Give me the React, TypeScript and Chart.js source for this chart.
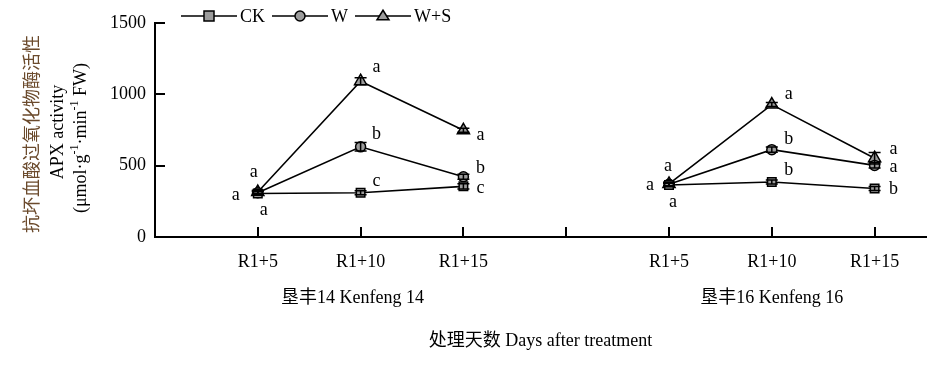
import React, { useEffect, useRef } from 'react';
import { Chart, registerables } from 'chart.js';

Chart.register(...registerables);

// ---------- data ----------
const SERIES_NAMES = ['CK', 'W', 'W+S'];
const CULTIVARS = ['垦丰14 Kenfeng 14', '垦丰16 Kenfeng 16'];
const X_POS_14 = [1, 2, 3];
const X_POS_16 = [5, 6, 7];
const X_TICKS = [1, 2, 3, 4, 5, 6, 7];
const X_TICK_LABELS = ['R1+5', 'R1+10', 'R1+15', '', 'R1+5', 'R1+10', 'R1+15'];
const Y_TICKS = [0, 500, 1000, 1500];

const CK_14 = [305, 310, 355];
const W_14 = [310, 632, 422];
const WS_14 = [315, 1092, 748];
const CK_16 = [365, 385, 340];
const W_16 = [370, 612, 502];
const WS_16 = [372, 928, 552];

const CK_14_ERR = [12, 14, 18];
const W_14_ERR = [12, 30, 18];
const WS_14_ERR = [12, 25, 14];
const CK_16_ERR = [12, 14, 14];
const W_16_ERR = [12, 18, 18];
const WS_16_ERR = [12, 14, 40];

const CK_14_SIG = ['a', 'c', 'c'];
const W_14_SIG = ['a', 'b', 'b'];
const WS_14_SIG = ['a', 'a', 'a'];
const CK_16_SIG = ['a', 'b', 'b'];
const W_16_SIG = ['a', 'b', 'a'];
const WS_16_SIG = ['a', 'a', 'a'];

const Y_TITLE_ZH = '抗坏血酸过氧化物酶活性';
const Y_TITLE_EN = 'APX activity';
const X_TITLE = '处理天数 Days after treatment';

// ---------- styles ----------
const FONT = '"Liberation Serif", "Times New Roman", "Noto Sans CJK SC", serif';
const FS = 18;
const MARKER_FILL = '#9c9c9c';
const POINT_STYLES = ['rect', 'circle', 'triangle'];
const POINT_RADII = [6, 5, 7];
const LEGEND_RADII = [5, 5, 6];
// letter offsets (px) relative to each point, per series, for the 6 points
const SIG_OFFSETS = [
  [[6, 17], [16, -12], [17, 2], [4, 17], [17, -12], [19, 1]],
  [[-22, 2], [16, -13], [17, -9], [-19, 1], [17, -10], [19, 2]],
  [[-4, -20], [16, -14], [17, 5], [-1, -18], [17, -10], [19, -9]],
];

const VALUES = [
  [CK_14, CK_16],
  [W_14, W_16],
  [WS_14, WS_16],
];
const ERRORS = [
  [CK_14_ERR, CK_16_ERR],
  [W_14_ERR, W_16_ERR],
  [WS_14_ERR, WS_16_ERR],
];
const SIGS = [
  [...CK_14_SIG, ...CK_16_SIG],
  [...W_14_SIG, ...W_16_SIG],
  [...WS_14_SIG, ...WS_16_SIG],
];

function buildData(s: number) {
  const [a, b] = VALUES[s];
  const [ea, eb] = ERRORS[s];
  const pts: any[] = [];
  X_POS_14.forEach((x, i) => pts.push({ x, y: a[i], err: ea[i] }));
  pts.push({ x: 4, y: null, err: 0 });
  X_POS_16.forEach((x, i) => pts.push({ x, y: b[i], err: eb[i] }));
  return pts;
}

function drawMarker(ctx: CanvasRenderingContext2D, style: string, x: number, y: number, r: number) {
  ctx.save();
  ctx.fillStyle = MARKER_FILL;
  ctx.strokeStyle = '#000';
  ctx.lineWidth = 1.5;
  ctx.beginPath();
  if (style === 'rect') {
    ctx.rect(x - r, y - r, 2 * r, 2 * r);
  } else if (style === 'circle') {
    ctx.arc(x, y, r, 0, Math.PI * 2);
  } else {
    const h = r * 1.6;
    ctx.moveTo(x, y - h * 0.6);
    ctx.lineTo(x + r, y + h * 0.4);
    ctx.lineTo(x - r, y + h * 0.4);
    ctx.closePath();
  }
  ctx.fill();
  ctx.stroke();
  ctx.restore();
}

const decorPlugin = {
  id: 'decor',
  afterDatasetsDraw(chart: any) {
    const ctx: CanvasRenderingContext2D = chart.ctx;
    const ys = chart.scales.y;
    ctx.save();
    ctx.strokeStyle = '#000';
    ctx.lineWidth = 1.5;
    chart.data.datasets.forEach((ds: any, di: number) => {
      const meta = chart.getDatasetMeta(di);
      ds.data.forEach((p: any, pi: number) => {
        if (p.y == null) return;
        const el = meta.data[pi];
        const x = el.x;
        const top = ys.getPixelForValue(p.y + p.err);
        const bot = ys.getPixelForValue(p.y - p.err);
        ctx.beginPath();
        ctx.moveTo(x, top);
        ctx.lineTo(x, bot);
        ctx.moveTo(x - 6, top);
        ctx.lineTo(x + 6, top);
        ctx.moveTo(x - 6, bot);
        ctx.lineTo(x + 6, bot);
        ctx.stroke();
      });
    });
    // significance letters
    ctx.fillStyle = '#000';
    ctx.font = `${FS}px ${FONT}`;
    ctx.textAlign = 'center';
    ctx.textBaseline = 'middle';
    chart.data.datasets.forEach((ds: any, di: number) => {
      const meta = chart.getDatasetMeta(di);
      let k = 0;
      ds.data.forEach((p: any, pi: number) => {
        if (p.y == null) return;
        const el = meta.data[pi];
        const [dx, dy] = SIG_OFFSETS[di][k];
        ctx.fillText(SIGS[di][k], el.x + dx, el.y + dy);
        k++;
      });
    });
    ctx.restore();
  },
  afterDraw(chart: any) {
    const ctx: CanvasRenderingContext2D = chart.ctx;
    const xs = chart.scales.x;
    const ys = chart.scales.y;
    const area = chart.chartArea;
    ctx.save();
    // inward tick marks
    ctx.strokeStyle = '#000';
    ctx.lineWidth = 2;
    ctx.beginPath();
    Y_TICKS.slice(1).forEach((v) => {
      const y = Math.round(ys.getPixelForValue(v));
      ctx.moveTo(area.left, y);
      ctx.lineTo(area.left + 10, y);
    });
    X_TICKS.forEach((v) => {
      const x = Math.round(xs.getPixelForValue(v));
      ctx.moveTo(x, area.bottom);
      ctx.lineTo(x, area.bottom - 10);
    });
    ctx.stroke();

    // legend
    ctx.font = `${FS}px ${FONT}`;
    ctx.textBaseline = 'middle';
    ctx.textAlign = 'left';
    ctx.fillStyle = '#000';
    let lx = 181;
    const ly = 16;
    SERIES_NAMES.forEach((name, i) => {
      ctx.beginPath();
      ctx.lineWidth = 1.5;
      ctx.moveTo(lx, ly);
      ctx.lineTo(lx + 56, ly);
      ctx.stroke();
      drawMarker(ctx, POINT_STYLES[i], lx + 28, ly, LEGEND_RADII[i]);
      ctx.fillStyle = '#000';
      ctx.fillText(name, lx + 59, ly + 1);
      lx = lx + 59 + ctx.measureText(name).width + 7;
    });

    // cultivar labels
    ctx.textAlign = 'center';
    ctx.fillText(CULTIVARS[0], xs.getPixelForValue(2) - 8, 298);
    ctx.fillText(CULTIVARS[1], xs.getPixelForValue(6), 298);
    // x title
    ctx.fillText(X_TITLE, (area.left + area.right) / 2, 341);

    // y titles
    ctx.save();
    ctx.translate(33, 134);
    ctx.rotate(-Math.PI / 2);
    ctx.fillStyle = '#6b4a2c';
    ctx.fillText(Y_TITLE_ZH, 0, 0);
    ctx.restore();

    ctx.save();
    ctx.translate(58, 132);
    ctx.rotate(-Math.PI / 2);
    ctx.fillStyle = '#000';
    ctx.fillText(Y_TITLE_EN, 0, 0);
    ctx.restore();

    const pieces = [
      { t: '(μmol·g', sup: false },
      { t: '-1', sup: true },
      { t: '·min', sup: false },
      { t: '-1', sup: true },
      { t: ' FW)', sup: false },
    ];
    ctx.save();
    ctx.translate(81, 138);
    ctx.rotate(-Math.PI / 2);
    ctx.fillStyle = '#000';
    ctx.textAlign = 'left';
    const widths = pieces.map((p) => {
      ctx.font = p.sup ? `12px ${FONT}` : `${FS}px ${FONT}`;
      return ctx.measureText(p.t).width;
    });
    const total = widths.reduce((a, b) => a + b, 0);
    let px = -total / 2;
    pieces.forEach((p, i) => {
      ctx.font = p.sup ? `12px ${FONT}` : `${FS}px ${FONT}`;
      ctx.fillText(p.t, px, p.sup ? -6 : 0);
      px += widths[i];
    });
    ctx.restore();

    ctx.restore();
  },
};

export default function App() {
  const ref = useRef<HTMLCanvasElement | null>(null);
  useEffect(() => {
    if (!ref.current) return;
    const tickFont = { family: FONT, size: FS };
    const chart = new Chart(ref.current, {
      type: 'line',
      data: {
        datasets: SERIES_NAMES.map((name, i) => ({
          label: name,
          data: buildData(i),
          borderColor: '#000',
          borderWidth: 1.6,
          backgroundColor: MARKER_FILL,
          pointStyle: POINT_STYLES[i] as any,
          pointRadius: POINT_RADII[i],
          pointBorderColor: '#000',
          pointBorderWidth: 1.5,
          pointBackgroundColor: MARKER_FILL,
          spanGaps: false,
          tension: 0,
          fill: false,
        })),
      },
      options: {
        animation: false,
        responsive: false,
        events: [],
        layout: { padding: { left: 0, right: 21, top: 23, bottom: 0 } },
        plugins: { legend: { display: false }, tooltip: { enabled: false } },
        scales: {
          x: {
            type: 'linear',
            min: 0,
            max: 7.5,
            afterBuildTicks: (s: any) => {
              s.ticks = X_TICKS.map((v) => ({ value: v }));
            },
            afterFit: (s: any) => {
              s.height = 131;
            },
            ticks: {
              callback: (v: any) => {
                const idx = X_TICKS.indexOf(Number(v));
                return idx >= 0 ? X_TICK_LABELS[idx] : '';
              },
              font: tickFont,
              color: '#000',
              padding: 14,
              maxRotation: 0,
              autoSkip: false,
            },
            grid: { drawOnChartArea: false, drawTicks: false },
            border: { color: '#000', width: 2 },
          },
          y: {
            type: 'linear',
            min: 0,
            max: 1500,
            afterBuildTicks: (s: any) => {
              s.ticks = Y_TICKS.map((v) => ({ value: v }));
            },
            afterFit: (s: any) => {
              s.width = 155;
            },
            ticks: {
              font: tickFont,
              color: '#000',
              padding: 9,
              callback: (v: any) => String(v),
            },
            grid: { drawOnChartArea: false, drawTicks: false },
            border: { color: '#000', width: 2 },
          },
        },
      },
      plugins: [decorPlugin],
    });
    return () => chart.destroy();
  }, []);
  return (
    <div style={{ position: 'fixed', left: 0, top: 0, width: 947, height: 368, background: '#fff' }}>
      <canvas ref={ref} width={947} height={368} style={{ width: 947, height: 368 }} />
    </div>
  );
}
